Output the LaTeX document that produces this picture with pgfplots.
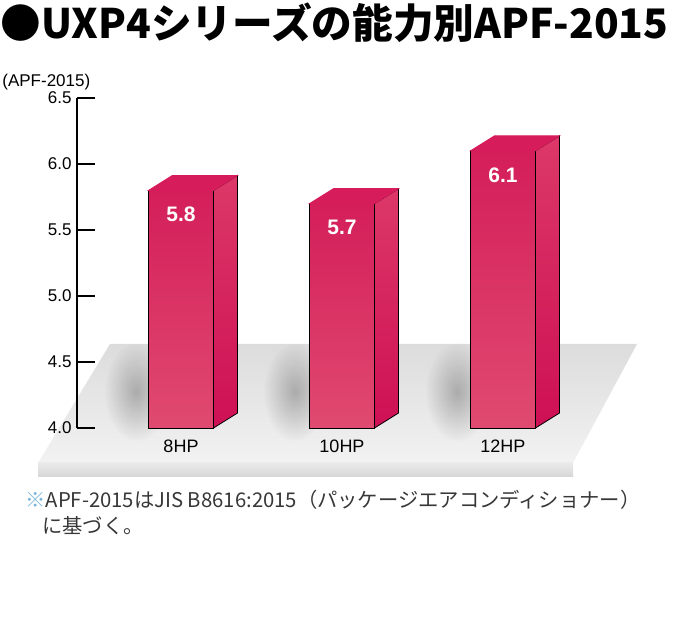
\documentclass[border=0pt]{standalone}
\usepackage{pgfplots}
\pgfplotsset{compat=1.18}
\usepackage{pgfplotstable}
\usepackage{fontspec}
\setmainfont{Liberation Sans}
\newfontfamily\jp{Noto Sans CJK JP}
\usetikzlibrary{fadings}
\tikzfading[name=softfade, inner color=transparent!0, outer color=transparent!100]
\pgfdeclareplotmark{emptymark}{}
\definecolor{barFront}{RGB}{218,52,100}
\definecolor{barFrontTop}{RGB}{212,30,90}
\definecolor{barFrontBot}{RGB}{224,74,112}
\definecolor{barSideTop}{RGB}{220,56,104}
\definecolor{barSideBot}{RGB}{206,16,84}
\definecolor{barTopFace}{RGB}{214,28,90}
\definecolor{floorA}{RGB}{220,220,220}
\definecolor{floorB}{RGB}{242,242,242}
\definecolor{slabA}{RGB}{234,234,234}
\definecolor{slabB}{RGB}{214,214,214}
\definecolor{kome}{RGB}{120,180,215}
\definecolor{note}{RGB}{55,55,55}

\pgfplotstableread{
x label value
0 8HP 5.8
1 10HP 5.7
2 12HP 6.1
}\apf

\begin{document}
\begin{tikzpicture}
\path[use as bounding box] (0,0) rectangle (341pt,-313pt);
\begin{scope}[x=0.5pt,y=-0.5pt]
 % title
 \node[anchor=west, inner sep=0] at (0,23) {\resizebox{334pt}{!}{\jp\bfseries\fontsize{21pt}{21pt}\selectfont ●UXP4シリーズの能力別APF-2015}};
 % y unit label
 \node[anchor=west, inner sep=0] at (2,82) {\fontsize{8.5pt}{8.5pt}\selectfont (APF-2015)};
 % floor
 \shade[top color=floorA, bottom color=floorB] (110,344) -- (637,344) -- (573,463) -- (38,463) -- cycle;
 \shade[top color=slabA, bottom color=slabB] (38,463) rectangle (573,477);
 % soft shadows
 \fill[black, opacity=0.25, path fading=softfade, fit fading=true] (136,392) ellipse [x radius=32, y radius=50];
 \fill[black, opacity=0.25, path fading=softfade, fit fading=true] (295,392) ellipse [x radius=32, y radius=50];
 \fill[black, opacity=0.25, path fading=softfade, fit fading=true] (457,392) ellipse [x radius=32, y radius=50];
 % footnote
 \node[anchor=west, inner sep=0, text=note] at (25,500) {\jp\fontsize{10.15pt}{10.15pt}\selectfont{\color{kome}※}APF-2015はJIS B8616:2015（パッケージエアコンディショナー）};
 \node[anchor=west, inner sep=0, text=note] at (42,526) {\jp\fontsize{10.15pt}{10.15pt}\selectfont に基づく。};
\end{scope}
\begin{axis}[
  at={(38.5pt,-214pt)}, anchor=south west,
  scale only axis, width=281.5pt, height=165pt,
  xmin=-0.646, xmax=2.851, ymin=4, ymax=6.5,
  axis y line*=left, axis x line*=bottom,
  x axis line style={draw=none},
  y axis line style={line width=0.8pt, -},
  ytick={4,4.5,5,5.5,6,6.5},
  yticklabel style={/pgf/number format/fixed, /pgf/number format/fixed zerofill, /pgf/number format/precision=1, /pgf/number format/assume math mode=true, font=\fontsize{8.5pt}{8.5pt}\selectfont, anchor=east, inner sep=0pt, xshift=-2.5pt},
  xtick=data, xticklabels={8HP,10HP,12HP},
  xticklabel style={font=\fontsize{9pt}{9pt}\selectfont, anchor=north, inner sep=0pt, yshift=-6pt},
  x tick style={draw=none},
  y tick style={line width=0.8pt, black},
  tick align=inside, major tick length=9pt,
]
\addplot[ybar, bar width=32.5pt, draw=none, fill=barFront] table[x=x,y=value]{\apf};
\addplot[scatter, only marks, mark=emptymark,
  visualization depends on={rawy \as \rawy},
  scatter/@pre marker code/.code={%
    \pgfmathsetmacro\hh{(\rawy-4)*66}%
    \shade[top color=barFrontTop, bottom color=barFrontBot] (-16.25pt,0pt) rectangle (16.25pt,{-\hh*1pt});
    \shade[top color=barSideTop, bottom color=barSideBot] (16.25pt,0pt) -- (28.25pt,7.5pt) -- (28.25pt,{(7.5-\hh)*1pt}) -- (16.25pt,{-\hh*1pt}) -- cycle;
    \fill[barTopFace] (-16.25pt,0pt) -- (-4.25pt,7.5pt) -- (28.25pt,7.5pt) -- (16.25pt,0pt) -- cycle;
    \node[text=white, font=\bfseries\fontsize{10.5pt}{10.5pt}\selectfont] at (0pt,-12pt) {\pgfmathprintnumber[fixed,fixed zerofill,precision=1,assume math mode=true]{\rawy}};
  },
  scatter/@post marker code/.code={},
] table[x=x,y=value]{\apf};
\end{axis}
\end{tikzpicture}
\end{document}
